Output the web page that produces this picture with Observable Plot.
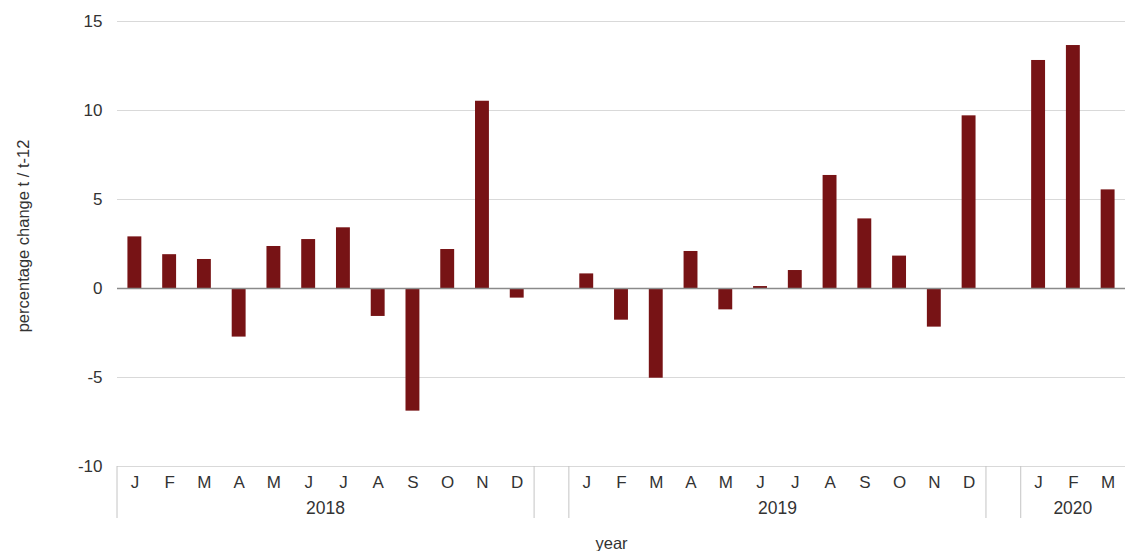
<!DOCTYPE html>
<html>
<head>
<meta charset="utf-8">
<script src="https://cdn.jsdelivr.net/npm/d3@7"></script>
<script src="https://cdn.jsdelivr.net/npm/@observablehq/plot@0.6"></script>
<style>
  html, body { margin: 0; padding: 0; background: #fff; overflow: hidden; }
  #chart { width: 1125px; height: 551px; overflow: hidden; }
  #chart svg { display: block; max-width: none !important; }
</style>
</head>
<body>
<div id="chart"></div>
<script>
const months = ["J","F","M","A","M","J","J","A","S","O","N","D"];
const years = ["2018","2019","2020"];
const values2018 = [2.9, 1.9, 1.63, -2.73, 2.36, 2.75, 3.41, -1.57, -6.89, 2.19, 10.52, -0.54];
const values2019 = [0.82, -1.78, -5.04, 2.08, -1.2, 0.11, 1.01, 6.35, 3.91, 1.82, -2.17, 9.7];
const values2020 = [12.81, 13.65, 5.54];
const yTicks = [-10, -5, 0, 5, 10, 15];
const yLabel = "percentage change t / t-12";
const xLabel = "year";

const series = [values2018, values2019, values2020];
const rows = [];
const slots = [];
const groups = [];
series.forEach((vals, yi) => {
  const keys = [];
  vals.forEach((v, mi) => {
    const key = `${years[yi]}-${mi}`;
    rows.push({key, value: v, month: months[mi]});
    slots.push(key);
    keys.push(key);
  });
  groups.push({year: years[yi], first: keys[0], last: keys[keys.length - 1]});
  if (yi < series.length - 1) slots.push(`gap-${yi}`);
});
const monthOf = new Map(rows.map(r => [r.key, r.month]));

const W = 1125, H = 551;
const font = "'Liberation Sans', Arial, sans-serif";
const textColor = "#333333";

// grouped category axis: separators + year labels, placed with the x scale
function groupAxis(index, scales, values, dim) {
  const x = scales.x;
  const step = x.step();
  const half = (step - x.bandwidth()) / 2;
  const bottom = dim.height - dim.marginBottom;
  const g = d3.create("svg:g");
  const lines = [];
  groups.forEach(gr => {
    lines.push(x(gr.first) - half);
    lines.push(x(gr.last) + x.bandwidth() + half);
  });
  lines.forEach(px => {
    if (px >= dim.width - 1) return;
    g.append("line")
      .attr("x1", px).attr("x2", px)
      .attr("y1", bottom).attr("y2", bottom + 52)
      .attr("stroke", "#c4c4c4").attr("stroke-width", 1);
  });
  groups.forEach(gr => {
    const x0 = x(gr.first) - half;
    const x1 = x(gr.last) + x.bandwidth() + half;
    g.append("text")
      .attr("x", (x0 + x1) / 2)
      .attr("y", bottom + 48)
      .attr("text-anchor", "middle")
      .attr("font-family", font)
      .attr("font-size", 17.5)
      .attr("fill", textColor)
      .text(gr.year);
  });
  return g.node();
}

const chart = Plot.plot({
  width: W,
  height: H,
  marginLeft: 117,
  marginRight: 0,
  marginTop: 21,
  marginBottom: 85,
  style: {fontFamily: font, background: "#fff"},
  x: {domain: slots, paddingInner: 0.6, paddingOuter: 0.3, round: false, label: null},
  y: {domain: [-10, 15], label: null},
  marks: [
    Plot.ruleY(yTicks.filter(d => d !== 0), {stroke: "#d9d9d9", strokeWidth: 1.2}),
    Plot.barY(rows, {x: "key", y: "value", fill: "#771315"}),
    Plot.ruleY([0], {stroke: "#8a8a8a", strokeWidth: 1.4}),
    Plot.axisY(yTicks, {tickSize: 0, tickPadding: 15, fontSize: 17, fill: textColor, label: null,
      tickFormat: d => String(d)}),
    Plot.axisX({tickSize: 0, tickPadding: 9, fontSize: 17, fill: textColor, label: null,
      tickFormat: k => monthOf.get(k) || ""}),
    groupAxis,
    Plot.text([yLabel], {frameAnchor: "left", textAnchor: "middle", dx: -94, dy: -8, rotate: -90, fontSize: 16.5, fill: textColor}),
    Plot.text([xLabel], {frameAnchor: "bottom", dx: -10, dy: 82, fontSize: 16.5, fill: textColor})
  ]
});
document.getElementById("chart").appendChild(chart);
</script>
</body>
</html>
